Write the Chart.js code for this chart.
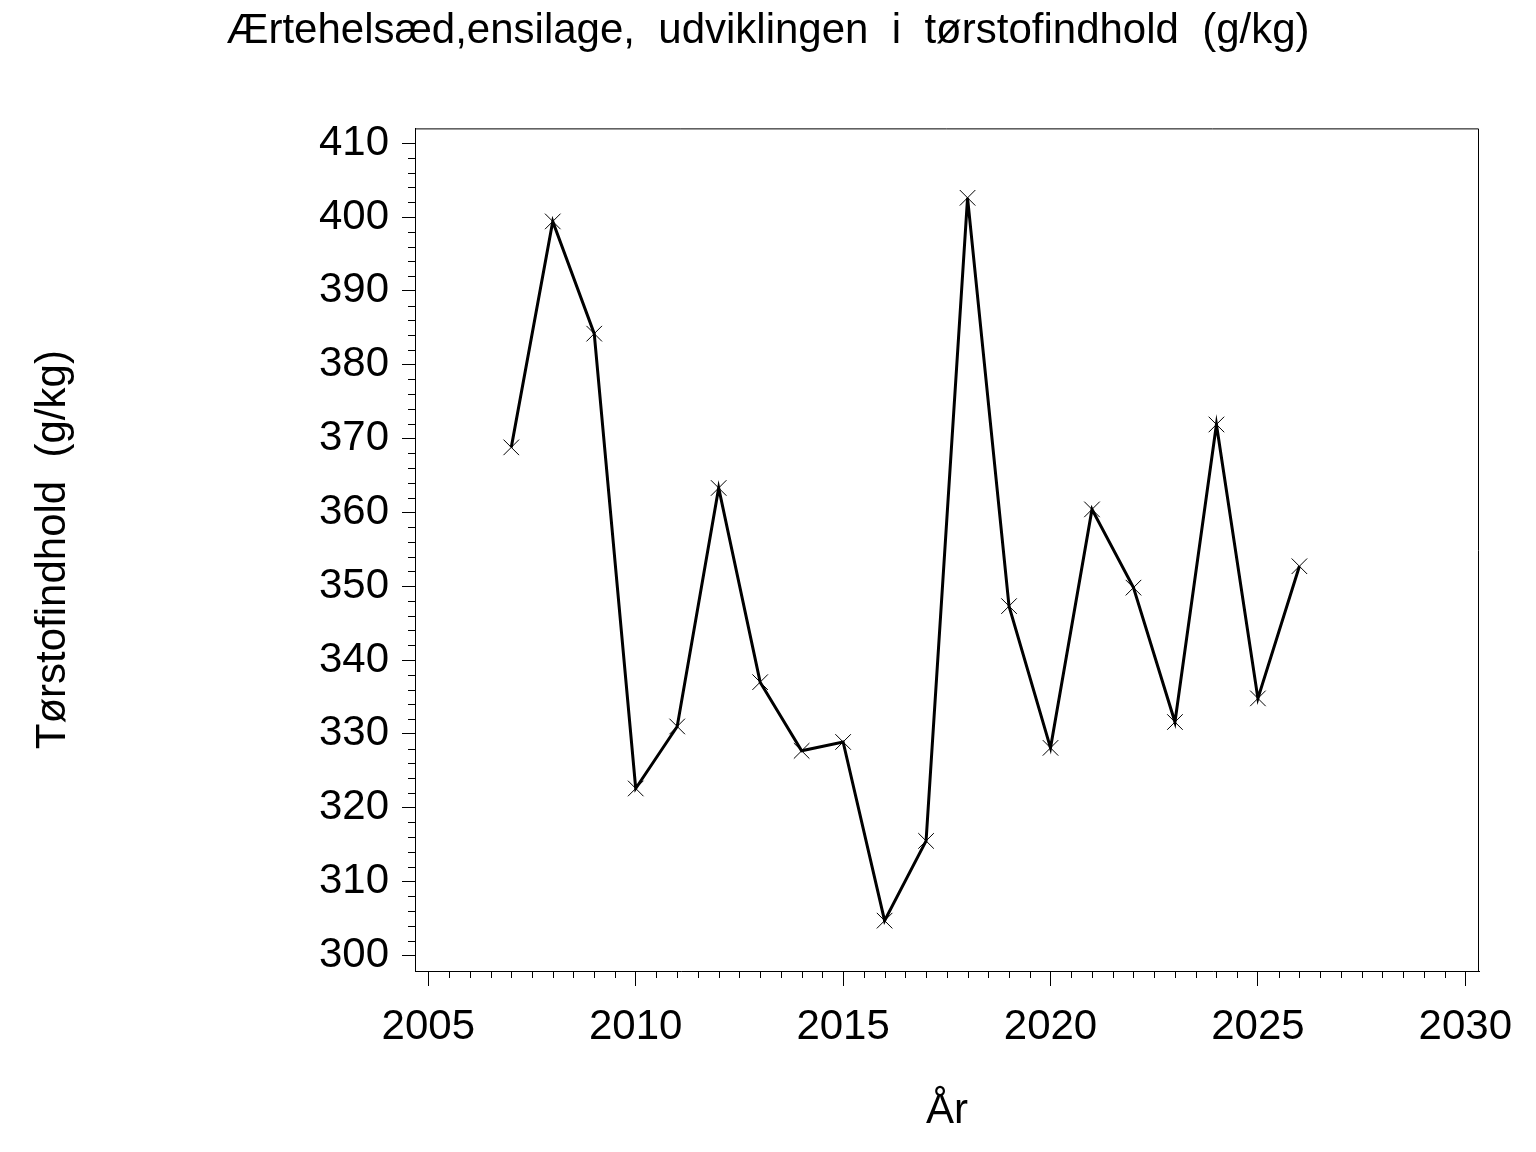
<!DOCTYPE html>
<html>
<head>
<meta charset="utf-8">
<title>Ærtehelsæd,ensilage, udviklingen i tørstofindhold</title>
<script src="https://cdn.jsdelivr.net/npm/chart.js@4.4.0/dist/chart.umd.min.js"></script>
<style>
    html, body { margin: 0; padding: 0; background: #fff; }
    canvas { display: block; }
</style>
</head>
<body>
<canvas id="line-chart" width="1536" height="1152"></canvas>
<script>
const years = [2007, 2008, 2009, 2010, 2011, 2012, 2013, 2014, 2015, 2016,
               2017, 2018, 2019, 2020, 2021, 2022, 2023, 2024, 2025, 2026];
const dryMatter = [368.8, 399.4, 384.2, 322.6, 331.0, 363.3, 337.0, 327.7, 328.9, 304.7,
                   315.5, 402.6, 347.3, 328.1, 360.4, 349.8, 331.6, 371.9, 334.8, 352.7];

const yTicks = [300, 310, 320, 330, 340, 350, 360, 370, 380, 390, 400, 410];
const xTicks = [2005, 2010, 2015, 2020, 2025, 2030];
const yMinorStep = 2;
const xMinorStep = 0.5;

const FONT = "'Liberation Sans', Arial, Helvetica, sans-serif";
const FONT_SIZE = 42;

Chart.defaults.color = '#000';
Chart.defaults.font.family = FONT;
Chart.defaults.font.size = FONT_SIZE;

// top/right frame and the short minor ticks
const frameAndMinorTicks = {
    id: 'frameAndMinorTicks',
    afterDraw(chart) {
        const {ctx, chartArea: a, scales: {x, y}} = chart;
        ctx.save();
        ctx.strokeStyle = '#000';
        ctx.lineWidth = 1;
        ctx.beginPath();
        ctx.moveTo(a.left, a.top + 0.5);
        ctx.lineTo(a.right - 0.5, a.top + 0.5);
        ctx.lineTo(a.right - 0.5, a.bottom + 1);

        for (let i = 0; i < yTicks.length - 1; i++) {
            for (let v = yTicks[i] + yMinorStep; v < yTicks[i + 1] - 0.001; v += yMinorStep) {
                const py = Math.round(y.getPixelForValue(v)) + 0.5;
                ctx.moveTo(a.left - 7, py);
                ctx.lineTo(a.left, py);
            }
        }
        for (let i = 0; i < xTicks.length - 1; i++) {
            for (let v = xTicks[i] + xMinorStep; v < xTicks[i + 1] - 0.001; v += xMinorStep) {
                const px = Math.round(x.getPixelForValue(v)) + 0.5;
                ctx.moveTo(px, a.bottom);
                ctx.lineTo(px, a.bottom + 7);
            }
        }
        ctx.stroke();
        ctx.restore();
    }
};

new Chart(document.getElementById('line-chart'), {
    type: 'line',
    data: {
        datasets: [{
            data: years.map((yr, i) => ({x: yr, y: dryMatter[i]})),
            borderColor: '#000',
            borderWidth: 3,
            tension: 0,
            fill: false,
            pointStyle: 'crossRot',
            pointRadius: 11,
            pointBorderWidth: 1,
            pointBorderColor: '#000',
            pointBackgroundColor: '#000'
        }]
    },
    options: {
        responsive: false,
        devicePixelRatio: 1,
        animation: false,
        events: [],
        layout: {padding: 0},
        plugins: {
            legend: {display: false},
            tooltip: {enabled: false},
            title: {
                display: true,
                text: 'Ærtehelsæd,ensilage,  udviklingen  i  tørstofindhold  (g/kg)',
                color: '#000',
                font: {family: FONT, size: FONT_SIZE, weight: 'normal'},
                padding: {top: 6, bottom: 72}
            }
        },
        scales: {
            x: {
                type: 'linear',
                min: 2004.679,
                max: 2030.33,
                afterFit: scale => { scale.height = 181; },
                afterBuildTicks: scale => { scale.ticks = xTicks.map(v => ({value: v})); },
                ticks: {
                    padding: 16,
                    color: '#000',
                    callback: v => String(v)
                },
                grid: {
                    drawOnChartArea: false,
                    drawTicks: true,
                    tickLength: 15,
                    tickWidth: 1,
                    tickColor: '#000'
                },
                border: {display: true, color: '#000', width: 1},
                title: {
                    display: true,
                    text: 'År',
                    color: '#000',
                    font: {family: FONT, size: FONT_SIZE},
                    padding: {top: 0, bottom: 15}
                }
            },
            y: {
                type: 'linear',
                min: 297.88,
                max: 412,
                afterFit: scale => { scale.width = 415; },
                afterBuildTicks: scale => { scale.ticks = yTicks.map(v => ({value: v})); },
                ticks: {
                    padding: 13,
                    color: '#000',
                    callback: v => String(v)
                },
                grid: {
                    drawOnChartArea: false,
                    drawTicks: true,
                    tickLength: 13,
                    tickWidth: 1,
                    tickColor: '#000'
                },
                border: {display: true, color: '#000', width: 1},
                title: {
                    display: true,
                    text: 'Tørstofindhold  (g/kg)',
                    color: '#000',
                    font: {family: FONT, size: FONT_SIZE},
                    padding: {top: 28, bottom: 0}
                }
            },
            // empty right-hand margin so the title stays centred on the page
            yRight: {
                type: 'linear',
                position: 'right',
                afterFit: scale => { scale.width = 57; },
                ticks: {display: false},
                grid: {display: false},
                border: {display: false}
            }
        }
    },
    plugins: [frameAndMinorTicks]
});
</script>
</body>
</html>
